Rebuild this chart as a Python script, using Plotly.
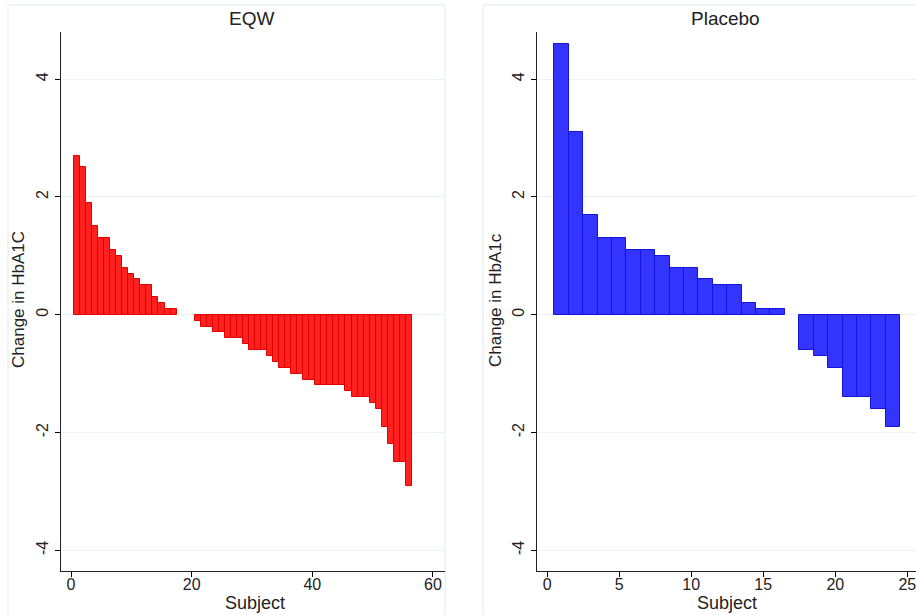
import plotly.graph_objects as go

# ---- data ----
eqw_subject = list(range(1, 57))
eqw_change = [2.7, 2.5, 1.9, 1.5, 1.3, 1.3, 1.1, 1.0, 0.8, 0.7, 0.6, 0.5, 0.5, 0.3, 0.2, 0.1, 0.1,
              0.0, 0.0, 0.0,
              -0.1, -0.2, -0.2, -0.3, -0.3, -0.4, -0.4, -0.4, -0.5, -0.6, -0.6, -0.6, -0.7, -0.8,
              -0.9, -0.9, -1.0, -1.0, -1.1, -1.1, -1.2, -1.2, -1.2, -1.2, -1.2, -1.3, -1.4, -1.4,
              -1.4, -1.5, -1.6, -1.9, -2.2, -2.5, -2.5, -2.9]
pla_subject = list(range(1, 25))
pla_change = [4.6, 3.1, 1.7, 1.3, 1.3, 1.1, 1.1, 1.0, 0.8, 0.8, 0.6, 0.5, 0.5, 0.2, 0.1, 0.1,
              0.0,
              -0.6, -0.7, -0.9, -1.4, -1.4, -1.6, -1.9]
y_ticks = [-4, -2, 0, 2, 4]
eqw_x_ticks = [0, 20, 40, 60]
pla_x_ticks = [0, 5, 10, 15, 20, 25]

W, H = 916, 615
FONT = "Liberation Sans, Arial, sans-serif"
TXT = "#222"

fig = go.Figure()
fig.add_trace(go.Bar(x=eqw_subject, y=eqw_change, width=1.0,
                     marker=dict(color="rgb(255,32,32)",
                                 line=dict(color="rgb(225,0,0)",
                                           width=[0 if v == 0 else 1 for v in eqw_change])),
                     xaxis="x", yaxis="y", showlegend=False))
fig.add_trace(go.Bar(x=pla_subject, y=pla_change, width=1.0,
                     marker=dict(color="rgb(52,52,255)",
                                 line=dict(color="rgb(20,20,215)",
                                           width=[0 if v == 0 else 1 for v in pla_change])),
                     xaxis="x2", yaxis="y2", showlegend=False))

ydom = [44 / H, 583 / H]
yax = dict(range=[-4.35, 4.80], tickvals=y_ticks, ticktext=[str(v) for v in y_ticks],
           tickangle=-90, ticks="outside", ticklen=5, tickwidth=1, tickcolor="black",
           showline=True, linecolor="#222", linewidth=1.3, showgrid=True,
           gridcolor="#edf3f3", gridwidth=1, zeroline=False, domain=ydom,
           tickfont=dict(family=FONT, size=16, color=TXT), fixedrange=True)
xax = dict(ticks="outside", ticklen=5, tickwidth=1, tickcolor="black",
           showline=True, linecolor="#222", linewidth=1.3, showgrid=False, zeroline=False,
           tickfont=dict(family=FONT, size=16, color=TXT), fixedrange=True,
           ticklabeloverflow="allow", ticklabelstandoff=-6)

fig.update_layout(
    width=W, height=H, margin=dict(l=0, r=0, t=0, b=0),
    paper_bgcolor="white", plot_bgcolor="white", bargap=0,
    xaxis=dict(xax, domain=[61 / W, 445 / W], range=[-1.66, 62.0], tickvals=eqw_x_ticks,
               anchor="y"),
    yaxis=dict(yax, anchor="x"),
    xaxis2=dict(xax, domain=[537 / W, 1.0], range=[-0.7, 25.6], tickvals=pla_x_ticks,
                anchor="y2"),
    yaxis2=dict(yax, anchor="x2"),
)

# panel borders
for x0, x1 in [(8, 445), (483, 925)]:
    fig.add_shape(type="rect", xref="paper", yref="paper",
                  x0=x0 / W, x1=x1 / W, y0=-0.05, y1=1 - 5 / H,
                  line=dict(color="#dfeaec", width=1), fillcolor="rgba(0,0,0,0)", layer="below")

# titles and axis labels
ann = [
    ("EQW", 252, 18, 0, 19),
    ("Placebo", 725, 18, 0, 19),
    ("Subject", 255, 603, 0, 18),
    ("Subject", 727, 603, 0, 18),
    ("Change in HbA1C", 18, 300, -90, 17),
    ("Change in HbA1c", 495, 300, -90, 17),
]
for text, px, py, ang, size in ann:
    fig.add_annotation(text=text, xref="paper", yref="paper", x=px / W, y=1 - py / H,
                       xanchor="center", yanchor="middle", showarrow=False, textangle=ang,
                       font=dict(family=FONT, size=size, color=TXT))

fig.write_html("out.html")
